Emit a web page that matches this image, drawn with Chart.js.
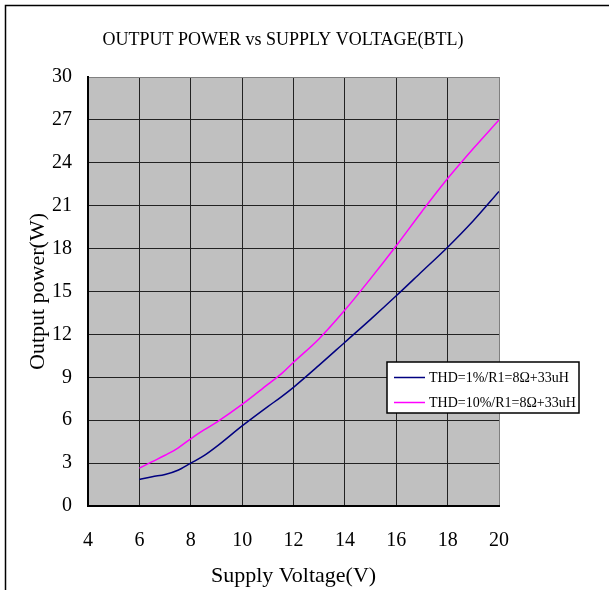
<!DOCTYPE html>
<html>
<head>
<meta charset="utf-8">
<script src="https://cdn.jsdelivr.net/npm/chart.js@4"></script>
<style>
  html, body { margin:0; padding:0; background:#fff; }
  canvas { display:block; }
</style>
</head>
<body>
<canvas id="chart" width="609" height="590"></canvas>
<script>
// Donnees
const voltage = [6, 6.5, 7, 7.5, 8, 8.5, 9, 10, 11, 11.5, 12, 13, 14, 15, 16, 17, 18, 19, 20];
const thd1 =  [1.85, 2.05, 2.2, 2.5, 3.0, 3.5, 4.15, 5.6, 6.95, 7.6, 8.3, 9.85, 11.45, 13.05, 14.7, 16.4, 18.1, 19.95, 22.0];
const thd10 = [2.65, 3.1, 3.55, 4.05, 4.7, 5.3, 5.85, 7.1, 8.5, 9.2, 10.05, 11.7, 13.7, 15.9, 18.2, 20.6, 22.9, 25.0, 27.0];
const labels = ["THD=1%/R1=8\u03A9+33uH", "THD=10%/R1=8\u03A9+33uH"];
const xTicks = [4, 6, 8, 10, 12, 14, 16, 18, 20];
const yTicks = [0, 3, 6, 9, 12, 15, 18, 21, 24, 27, 30];
const title = "OUTPUT POWER vs SUPPLY VOLTAGE(BTL)";

const FONT = "'Liberation Serif', 'DejaVu Serif', serif";

function toPoints(ys){
  return voltage.map((v,i)=>({x:v, y:ys[i]}));
}

// fond, cadre, titre et legende
const decor = {
  id: "decor",
  beforeDraw(chart){
    const ctx = chart.ctx;
    const a = chart.chartArea;
    ctx.save();
    ctx.fillStyle = "#fff";
    ctx.fillRect(0,0,chart.width,chart.height);
    ctx.strokeStyle = "#000";
    ctx.lineWidth = 1.5;
    ctx.beginPath();
    ctx.moveTo(5.5, chart.height); ctx.lineTo(5.5, 5.5); ctx.lineTo(chart.width, 5.5);
    ctx.stroke();
    ctx.fillStyle = "#c0c0c0";
    ctx.fillRect(a.left, a.top, a.right-a.left, a.bottom-a.top);
    ctx.fillStyle = "#000";
    ctx.font = "18px " + FONT;
    ctx.textAlign = "center";
    ctx.textBaseline = "middle";
    ctx.fillText(title, 283, 40);
    ctx.restore();
  },
  afterDraw(chart){
    const ctx = chart.ctx;
    const x0 = 387, y0 = 362, w = 192, h = 51;
    ctx.save();
    ctx.fillStyle = "#fff";
    ctx.fillRect(x0, y0, w, h);
    ctx.strokeStyle = "#000";
    ctx.lineWidth = 1.5;
    ctx.strokeRect(x0, y0, w, h);
    ctx.font = "14px " + FONT;
    ctx.textBaseline = "middle";
    chart.data.datasets.forEach((ds,i)=>{
      const y = y0 + 15.5 + i*25;
      ctx.strokeStyle = ds.borderColor;
      ctx.lineWidth = 1.5;
      ctx.beginPath();
      ctx.moveTo(x0+7, y); ctx.lineTo(x0+38, y);
      ctx.stroke();
      ctx.fillStyle = "#000";
      ctx.fillText(ds.label, x0+42, y+1);
    });
    ctx.restore();
  }
};

new Chart(document.getElementById("chart"), {
  type: "line",
  data: {
    datasets: [
      {label: labels[0], data: toPoints(thd1), borderColor: "#000080", borderWidth: 1.5,
       pointRadius: 0, cubicInterpolationMode: "monotone", fill: false},
      {label: labels[1], data: toPoints(thd10), borderColor: "#ff00ff", borderWidth: 1.5,
       pointRadius: 0, cubicInterpolationMode: "monotone", fill: false}
    ]
  },
  options: {
    responsive: false,
    animation: false,
    devicePixelRatio: 1,
    layout: {padding: {top: 77, right: 110, left: 0, bottom: 0}},
    plugins: {legend: {display: false}, tooltip: {enabled: false}, title: {display: false}},
    scales: {
      x: {
        type: "linear", min: 4, max: 20,
        afterFit: s => { s.height = 84; },
        afterBuildTicks: s => { s.ticks = xTicks.map(v=>({value:v})); },
        grid: {color: c => c.tick && c.tick.value === 20 ? "#808080" : "#222", lineWidth: 1, drawTicks: false},
        border: {color: "#000", width: 2},
        ticks: {color: "#000", font: {family: FONT, size: 20}, padding: 23},
        title: {display: true, text: "Supply Voltage(V)", color: "#000",
                font: {family: FONT, size: 22}, padding: {top: 0, bottom: 1}}
      },
      y: {
        min: 0, max: 30,
        afterFit: s => { s.width = 88; },
        afterBuildTicks: s => { s.ticks = yTicks.map(v=>({value:v})); },
        grid: {color: c => c.tick && c.tick.value === 30 ? "#808080" : "#222", lineWidth: 1, drawTicks: false},
        border: {color: "#000", width: 2},
        ticks: {color: "#000", font: {family: FONT, size: 20}, padding: 16},
        title: {display: true, text: "Output power(W)", color: "#000",
                font: {family: FONT, size: 22}, padding: {top: 25, bottom: 0}}
      }
    }
  },
  plugins: [decor]
});
</script>
</body>
</html>
